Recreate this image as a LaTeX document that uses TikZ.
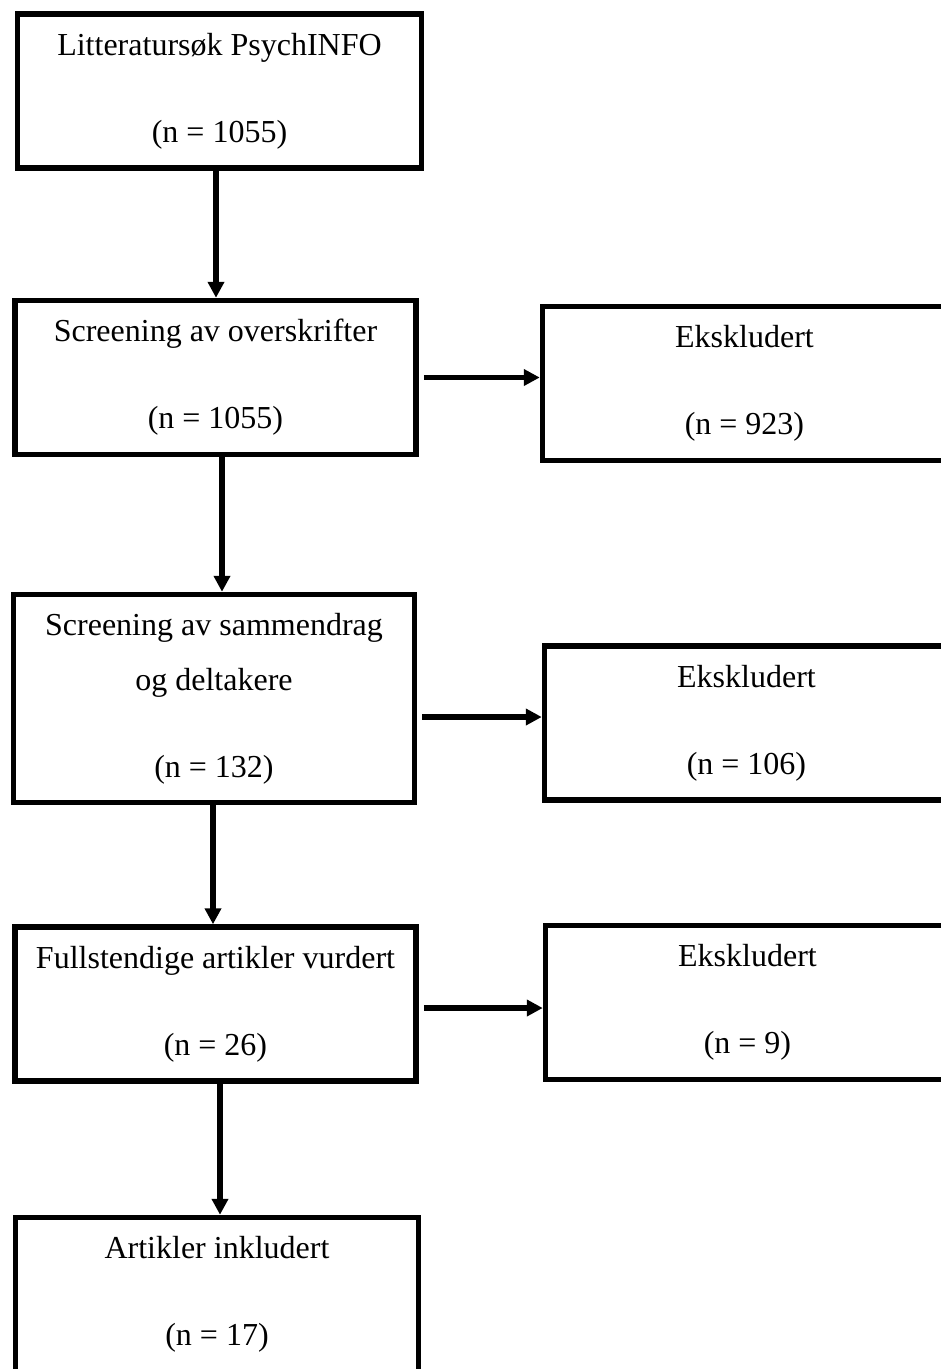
\documentclass[tikz,border=0pt]{standalone}
\usepackage{fontspec}
\setmainfont{Liberation Serif}
\usetikzlibrary{arrows.meta}

\begin{document}
\begin{tikzpicture}[node distance=300pt, >={Triangle[length=16pt,width=16pt]}, every node/.style={draw, rectangle, line width=5.5pt, font=\fontsize{32pt}{55pt}\selectfont, align=center, minimum width=401pt, minimum height=154pt, inner sep=0pt}]
        \useasboundingbox (0,0) rectangle (941pt,-1369pt);

        \node (search) at (219.5pt,-91pt) [minimum width=404pt] {Litteratursøk PsychINFO\\[32pt](n = 1055)};
        \node (titles) [below of=search, xshift=-4pt, yshift=13.5pt] {Screening av overskrifter\\[32pt](n = 1055)};
        \node (abstracts) [below of=titles, xshift=-1.5pt, yshift=-21pt, minimum height=208pt] {Screening av sammendrag\\og deltakere\\[32pt](n = 132)};
        \node (fulltext) [below of=abstracts, xshift=1.5pt, yshift=-5.5pt] {Fullstendige artikler vurdert\\[32pt](n = 26)};
        \node (included) [below of=fulltext, xshift=1.5pt, yshift=9.5pt, minimum width=403pt] {Artikler inkludert\\[32pt](n = 17)};

        \node (excl1) [right of=titles, xshift=229pt, yshift=-6pt, minimum width=404pt] {Ekskludert\\[32pt](n = 923)};
        \node (excl2) [right of=abstracts, xshift=232.5pt, yshift=-24.5pt, minimum width=404pt] {Ekskludert\\[32pt](n = 106)};
        \node (excl3) [right of=fulltext, xshift=232pt, yshift=1.5pt, minimum width=404pt] {Ekskludert\\[32pt](n = 9)};

        \draw[->, line width=5.5pt] ([xshift=-3.5pt]search.south) -- ([xshift=-3.5pt]search.south |- titles.north);
        \draw[->, line width=5.5pt] ([xshift=6.5pt]titles.south) -- ([xshift=6.5pt]titles.south |- abstracts.north);
        \draw[->, line width=5.5pt] ([xshift=-1pt]abstracts.south) -- ([xshift=-1pt]abstracts.south |- fulltext.north);
        \draw[->, line width=5.5pt] ([xshift=4.5pt]fulltext.south) -- ([xshift=4.5pt]fulltext.south |- included.north);

        \draw[->, line width=5.5pt, shorten <=5pt] (titles.east) -- (titles.east -| excl1.west);
        \draw[->, line width=5.5pt, shorten <=5pt] ([yshift=-18.5pt]abstracts.east) -- ([yshift=-18.5pt]abstracts.east -| excl2.west);
        \draw[->, line width=5.5pt, shorten <=5pt] ([yshift=-4pt]fulltext.east) -- ([yshift=-4pt]fulltext.east -| excl3.west);
    \end{tikzpicture}
\end{document}
